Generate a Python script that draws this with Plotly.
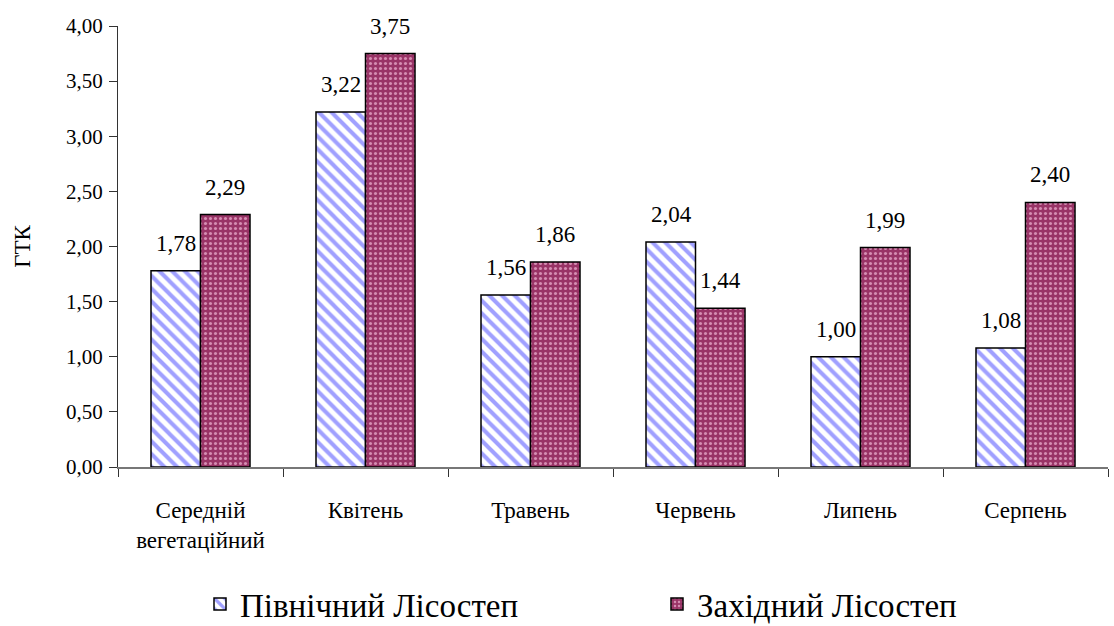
import plotly.graph_objects as go

# Hydrothermal coefficient (ГТК) by month for two forest-steppe zones
categories = ["Середній<br>вегетаційний", "Квітень", "Травень", "Червень", "Липень", "Серпень"]
north_values = [1.78, 3.22, 1.56, 2.04, 1.00, 1.08]
west_values = [2.29, 3.75, 1.86, 1.44, 1.99, 2.40]
series_names = ["Північний Лісостеп", "Західний Лісостеп"]
y_ticks = [0, 0.5, 1, 1.5, 2, 2.5, 3, 3.5, 4]

FONT = "Liberation Serif"

fig = go.Figure()
fig.add_trace(go.Bar(
    x=categories, y=north_values, name=series_names[0],
    marker=dict(
        color="white",
        line=dict(color="black", width=1.5),
        pattern=dict(shape="\\", fgcolor="#a0a0ff", bgcolor="white",
                     size=9, solidity=0.45, fillmode="replace"),
    ),
))
fig.add_trace(go.Bar(
    x=categories, y=west_values, name=series_names[1],
    marker=dict(
        color="#993366",
        line=dict(color="black", width=1.5),
        pattern=dict(shape=".", fgcolor="#d58db2", bgcolor="#993366",
                     size=5, solidity=0.3, fillmode="replace"),
    ),
))

# value labels above each bar
for vals, shift in ((north_values, -24.5), (west_values, 24.5)):
    for cat, v in zip(categories, vals):
        fig.add_annotation(
            x=cat, y=v, text=f"{v:.2f}".replace(".", ","),
            xshift=shift, yshift=13, yanchor="bottom", showarrow=False,
            font=dict(family=FONT, size=23, color="black"),
        )

fig.update_layout(
    width=1114, height=626,
    margin=dict(l=118, r=6, t=26, b=159),
    paper_bgcolor="white", plot_bgcolor="white",
    separators=", ",
    barmode="group", bargap=0.4, bargroupgap=0,
    showlegend=True,
    legend=dict(
        orientation="h", xref="paper", x=0.56, xanchor="center",
        yref="container", y=22 / 626, yanchor="middle",
        font=dict(family=FONT, size=33, color="black"),
        entrywidth=412, entrywidthmode="pixels",
        itemclick=False,
    ),
)
fig.update_yaxes(
    range=[0, 4], tickvals=y_ticks, tickformat=".2f",
    showgrid=False, zeroline=False,
    showline=True, linecolor="#333333", linewidth=1,
    ticks="outside", ticklen=8, tickcolor="#333333",
    ticklabelstandoff=2,
    tickfont=dict(family=FONT, size=21, color="black"),
    title=dict(text="ГТК", font=dict(family=FONT, size=23, color="black"), standoff=28),
)
fig.update_xaxes(
    showgrid=False, showline=True, linecolor="#777777", linewidth=1.5,
    ticks="outside", ticklen=8, tickcolor="#333333", tickson="boundaries",
    ticklabelstandoff=22,
    tickfont=dict(family=FONT, size=23, color="black"),
)

fig.write_html("out.html")
